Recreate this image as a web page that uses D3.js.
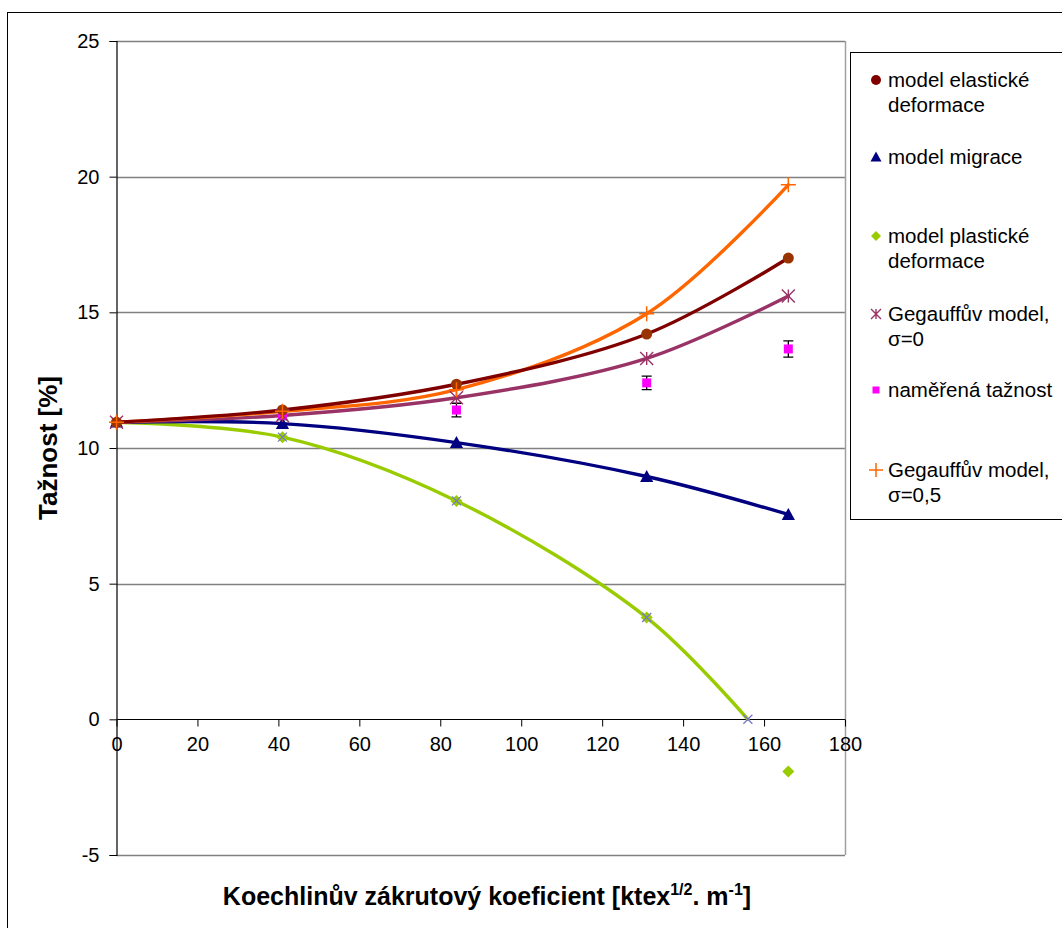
<!DOCTYPE html>
<html>
<head>
<meta charset="utf-8">
<script src="https://cdn.jsdelivr.net/npm/d3@7"></script>
<style>
  html, body { margin: 0; padding: 0; background: #fff; }
  svg { display: block; font-family: "Liberation Sans", Arial, sans-serif; }
</style>
</head>
<body>
<svg id="chart" width="1062" height="928"></svg>
<script>
// Twist coefficient values (x) shared by the model series
const twist = [0, 41, 84, 131, 166];

// Elongation [%] predicted by each model
const elastic   = [10.95, 11.4, 12.35, 14.2, 17.0];
const migration = [10.95, 10.9, 10.2, 8.95, 7.55];
const plastic   = [10.95, 10.4, 8.05, 3.75, -1.92];
const gegauff0  = [10.95, 11.2, 11.85, 13.3, 15.6];
const gegauff05 = [10.95, 11.35, 12.15, 14.95, 19.7];

// Plastic-deformation curve, cut off where it reaches zero elongation
const plasticCurveX = [0, 41, 84, 131, 156];
const plasticCurveY = [10.95, 10.4, 8.05, 3.75, 0];

// Measured elongation with its spread
const measuredX   = [41, 84, 131, 166];
const measured    = [11.2, 11.4, 12.4, 13.65];
const measuredErr = [0.15, 0.25, 0.25, 0.3];

// Axis ticks
const xTicks = [0, 20, 40, 60, 80, 100, 120, 140, 160, 180];
const yTicks = [-5, 0, 5, 10, 15, 20, 25];

const svg = d3.select("#chart");

// Outer chart frame
svg.append("rect").attr("x", 7.5).attr("y", 12.5).attr("width", 1100).attr("height", 1000)
  .attr("fill", "#fff").attr("stroke", "#000").attr("stroke-width", 1);

const plotLeft = 116.5, plotRight = 845, plotTop = 41, plotBottom = 855;
const x = d3.scaleLinear().domain([0, 180]).range([plotLeft, plotRight]);
const y = d3.scaleLinear().domain([-5, 25]).range([plotBottom, plotTop]);

// Horizontal gridlines
svg.append("g").selectAll("line").data(yTicks.filter(d => d !== 0)).join("line")
  .attr("x1", plotLeft).attr("x2", plotRight)
  .attr("y1", d => Math.round(y(d)) + 0.5).attr("y2", d => Math.round(y(d)) + 0.5)
  .attr("stroke", "#808080").attr("stroke-width", 1.5);

// Plot-area right edge
svg.append("line").attr("x1", plotRight + 0.5).attr("x2", plotRight + 0.5).attr("y1", plotTop).attr("y2", plotBottom)
  .attr("stroke", "#a0a0a0").attr("stroke-width", 1.5);

// Plain hyphen for negatives
const plainNum = d => String(d);

// Y axis
const yAxis = d3.axisLeft(y).tickValues(yTicks).tickSize(7).tickPadding(10).tickFormat(plainNum);
const gy = svg.append("g").attr("transform", `translate(${plotLeft},0)`).call(yAxis);
gy.select(".domain").attr("stroke", "#000").attr("stroke-width", 1.2);
gy.selectAll(".tick line").attr("stroke", "#000");
gy.selectAll(".tick text").attr("font-size", 20).attr("fill", "#000")
  .attr("font-family", "Liberation Sans, Arial, sans-serif");

// X axis sits on the zero line
const xAxis = d3.axisBottom(x).tickValues(xTicks).tickSize(7).tickPadding(10).tickFormat(plainNum);
const gx = svg.append("g").attr("transform", `translate(0,${Math.round(y(0)) + 0.5})`).call(xAxis);
gx.select(".domain").attr("stroke", "#000").attr("stroke-width", 1.2).attr("d", `M${plotLeft},0H${plotRight}`);
gx.selectAll(".tick line").attr("stroke", "#000");
gx.selectAll(".tick text").attr("font-size", 20).attr("fill", "#000")
  .attr("font-family", "Liberation Sans, Arial, sans-serif");

// Curves
const line = d3.line().x(d => x(d[0])).y(d => y(d[1])).curve(d3.curveCatmullRom.alpha(0.5));
const zipXY = (xs, ys) => xs.map((v, i) => [v, ys[i]]);

const curves = [
  { pts: zipXY(plasticCurveX, plasticCurveY), color: "#99CC00" },
  { pts: zipXY(twist, migration), color: "#000080" },
  { pts: zipXY(twist, gegauff0), color: "#993366" },
  { pts: zipXY(twist, gegauff05), color: "#FF6600" },
  { pts: zipXY(twist, elastic), color: "#800000" }
];
svg.append("g").selectAll("path").data(curves).join("path")
  .attr("d", d => line(d.pts)).attr("fill", "none")
  .attr("stroke", d => d.color).attr("stroke-width", 3.4)
  .attr("stroke-linejoin", "round").attr("stroke-linecap", "round");

// Marker shapes
function drawMarker(g, type, cx, cy, color, s) {
  if (type === "circle") {
    g.append("circle").attr("cx", cx).attr("cy", cy).attr("r", s / 2).attr("fill", color);
  } else if (type === "triangle") {
    g.append("path").attr("d", `M${cx},${cy - s * 0.55}L${cx + s * 0.55},${cy + s * 0.45}L${cx - s * 0.55},${cy + s * 0.45}Z`).attr("fill", color);
  } else if (type === "diamond") {
    g.append("path").attr("d", `M${cx},${cy - s / 2}L${cx + s / 2},${cy}L${cx},${cy + s / 2}L${cx - s / 2},${cy}Z`).attr("fill", color);
  } else if (type === "square") {
    g.append("rect").attr("x", cx - s / 2).attr("y", cy - s / 2).attr("width", s).attr("height", s).attr("fill", color);
  } else if (type === "star") {
    const h = s / 2;
    g.append("path").attr("d", `M${cx - h},${cy - h}L${cx + h},${cy + h}M${cx - h},${cy + h}L${cx + h},${cy - h}M${cx},${cy - h}L${cx},${cy + h}`)
      .attr("stroke", color).attr("stroke-width", 1.4).attr("fill", "none");
  } else if (type === "plus") {
    const h = s / 2;
    g.append("path").attr("d", `M${cx - h},${cy}L${cx + h},${cy}M${cx},${cy - h}L${cx},${cy + h}`)
      .attr("stroke", color).attr("stroke-width", 1.5).attr("fill", "none");
  } else if (type === "cross") {
    const h = s / 2;
    g.append("path").attr("d", `M${cx - h},${cy - h}L${cx + h},${cy + h}M${cx - h},${cy + h}L${cx + h},${cy - h}`)
      .attr("stroke", color).attr("stroke-width", 1.3).attr("fill", "none");
  }
}

const markers = svg.append("g");

// Plastic-deformation diamonds
twist.forEach((t, i) => drawMarker(markers, "diamond", x(t), y(plastic[i]), "#99CC00", 12));
// Points on the plastic curve
plasticCurveX.forEach((t, i) => { if (i > 0) drawMarker(markers, "cross", x(t), y(plasticCurveY[i]), "#7777CC", 9); });
// Migration triangles
twist.forEach((t, i) => drawMarker(markers, "triangle", x(t), y(migration[i]), "#000080", 12));

// Measured values with error bars
measuredX.forEach((t, i) => {
  const cx = x(t), y1 = y(measured[i] + measuredErr[i]), y2 = y(measured[i] - measuredErr[i]);
  markers.append("path").attr("d", `M${cx},${y1}L${cx},${y2}M${cx - 5},${y1}L${cx + 5},${y1}M${cx - 5},${y2}L${cx + 5},${y2}`)
    .attr("stroke", "#000").attr("stroke-width", 1.3).attr("fill", "none");
  drawMarker(markers, "square", cx, y(measured[i]), "#FF00FF", 9);
});

twist.forEach((t, i) => drawMarker(markers, "star", x(t), y(gegauff0[i]), "#993366", 13));
twist.forEach((t, i) => drawMarker(markers, "circle", x(t), y(elastic[i]), "#993300", 11));
twist.forEach((t, i) => drawMarker(markers, "plus", x(t), y(gegauff05[i]), "#FF6600", 15));

// Axis titles
svg.append("text").attr("transform", "translate(57,448) rotate(-90)")
  .attr("text-anchor", "middle").attr("font-size", 26).attr("font-weight", "bold").text("Tažnost [%]");

const xt = svg.append("text").attr("x", 487).attr("y", 905).attr("text-anchor", "middle")
  .attr("font-size", 25).attr("font-weight", "bold");
xt.append("tspan").text("Koechlinův zákrutový koeficient [ktex");
xt.append("tspan").attr("font-size", 16).attr("dy", -10).text("1/2");
xt.append("tspan").attr("dy", 10).text(". m");
xt.append("tspan").attr("font-size", 16).attr("dy", -10).text("-1");
xt.append("tspan").attr("dy", 10).text("]");

// Legend
const legendItems = [
  { type: "circle", color: "#800000", lines: ["model elastické", "deformace"], y: 80 },
  { type: "triangle", color: "#000080", lines: ["model migrace"], y: 157 },
  { type: "diamond", color: "#99CC00", lines: ["model plastické", "deformace"], y: 236 },
  { type: "star", color: "#993366", lines: ["Gegauffův model,", "σ=0"], y: 314 },
  { type: "square", color: "#FF00FF", lines: ["naměřená tažnost"], y: 390 },
  { type: "plus", color: "#FF6600", lines: ["Gegauffův model,", "σ=0,5"], y: 470 }
];
const lg = svg.append("g");
lg.append("rect").attr("x", 850.5).attr("y", 52.5).attr("width", 230).attr("height", 467)
  .attr("fill", "#fff").attr("stroke", "#000").attr("stroke-width", 1);
legendItems.forEach(it => {
  drawMarker(lg, it.type, 876, it.y, it.color, it.type === "plus" ? 14 : it.type === "square" ? 7 : 10);
  it.lines.forEach((t, j) => {
    lg.append("text").attr("x", 888).attr("y", it.y + 7 + j * 24.5)
      .attr("font-size", 20.5).attr("fill", "#000").text(t);
  });
});
</script>
</body>
</html>
